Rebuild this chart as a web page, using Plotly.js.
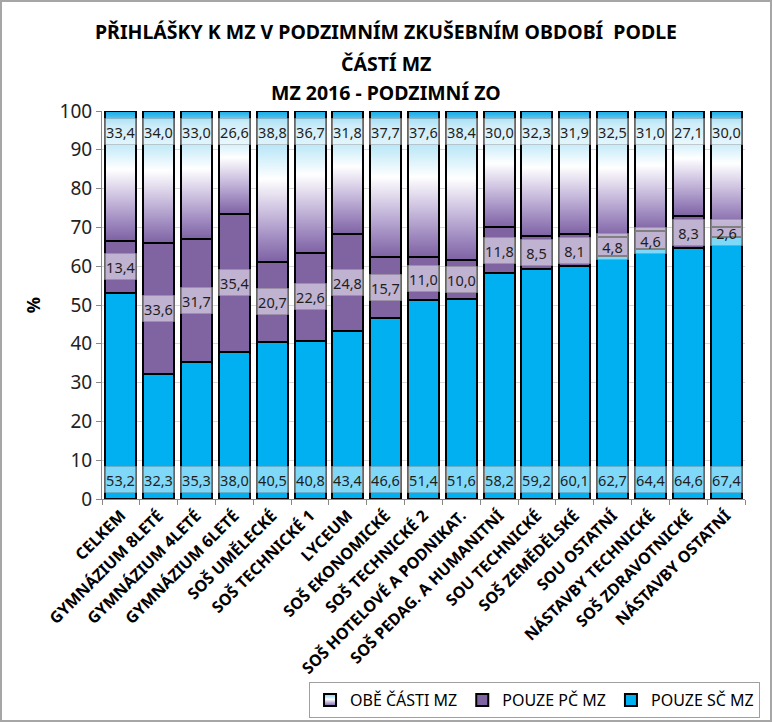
<!DOCTYPE html>
<html>
<head>
<meta charset="utf-8">
<script src="https://cdn.plot.ly/plotly-3.0.1.min.js"></script>
<style>
  html, body { margin: 0; padding: 0; background: #fff; }
  #wrap { position: relative; width: 772px; height: 722px; }
  #chart { width: 772px; height: 722px; }
  #frame { position: absolute; left: 0; top: 0; width: 772px; height: 722px; box-sizing: border-box; border: 2px solid #a6a6a6; pointer-events: none; }
</style>
</head>
<body>
<div id="wrap"><div id="chart"></div><div id="frame"></div></div>
<script>
const categories = [
  'CELKEM', 'GYMNÁZIUM 8LETÉ', 'GYMNÁZIUM 4LETÉ', 'GYMNÁZIUM 6LETÉ', 'SOŠ UMĚLECKÉ',
  'SOŠ TECHNICKÉ 1', 'LYCEUM', 'SOŠ EKONOMICKÉ', 'SOŠ TECHNICKÉ 2', 'SOŠ HOTELOVÉ A PODNIKAT.',
  'SOŠ PEDAG. A HUMANITNÍ', 'SOU TECHNICKÉ', 'SOŠ ZEMĚDĚLSKÉ', 'SOU OSTATNÍ',
  'NÁSTAVBY TECHNICKÉ', 'SOŠ ZDRAVOTNICKÉ', 'NÁSTAVBY OSTATNÍ'
];
const pouzeSC = [53.2, 32.3, 35.3, 38.0, 40.5, 40.8, 43.4, 46.6, 51.4, 51.6, 58.2, 59.2, 60.1, 62.7, 64.4, 64.6, 67.4];
const pouzePC = [13.4, 33.6, 31.7, 35.4, 20.7, 22.6, 24.8, 15.7, 11.0, 10.0, 11.8, 8.5, 8.1, 4.8, 4.6, 8.3, 2.6];
const obeCasti = [33.4, 34.0, 33.0, 26.6, 38.8, 36.7, 31.8, 37.7, 37.6, 38.4, 30.0, 32.3, 31.9, 32.5, 31.0, 27.1, 30.0];
const seriesNames = ['POUZE SČ MZ', 'POUZE PČ MZ', 'OBĚ ČÁSTI MZ'];
const titleLines = ['PŘIHLÁŠKY K MZ V PODZIMNÍM ZKUŠEBNÍM OBDOBÍ  PODLE', 'ČÁSTÍ MZ', 'MZ 2016 - PODZIMNÍ ZO'];
const yTicks = [0, 10, 20, 30, 40, 50, 60, 70, 80, 90, 100];

const fmt = v => v.toFixed(1).replace('.', ',');
const FONT = '"Noto Sans", "Open Sans", sans-serif';
const TITLEFONT = '"Noto Sans", "Open Sans", sans-serif';

const lineStyle = { color: '#000000', width: 2 };
const data = [
  { type: 'bar', name: seriesNames[0], x: categories, y: pouzeSC, marker: { color: '#00b0f0', line: lineStyle }, hoverinfo: 'none' },
  { type: 'bar', name: seriesNames[1], x: categories, y: pouzePC, marker: { color: '#8064a2', line: lineStyle }, hoverinfo: 'none' },
  { type: 'bar', name: seriesNames[2], x: categories, y: obeCasti, marker: { color: '#dcd3ea', line: lineStyle }, hoverinfo: 'none' }
];

const labelBox = {
  xref: 'x', yref: 'y', showarrow: false,
  font: { family: FONT, size: 14.5, color: '#1e1e1e' },
  bgcolor: 'rgba(255,255,255,0.5)', bordercolor: 'rgba(150,150,150,0.45)', borderwidth: 1,
  borderpad: 1, width: 29, height: 23, align: 'center', valign: 'middle'
};
const annotations = [];
categories.forEach((c, i) => {
  annotations.push(Object.assign({}, labelBox, { x: c, y: 0, yanchor: 'middle', yshift: 20, text: fmt(pouzeSC[i]) }));
  annotations.push(Object.assign({}, labelBox, { x: c, y: pouzeSC[i] + pouzePC[i] / 2, yanchor: 'middle', text: fmt(pouzePC[i]) }));
  annotations.push(Object.assign({}, labelBox, { x: c, y: 100, yanchor: 'middle', yshift: -20, text: fmt(obeCasti[i]) }));
});
const tFont = { family: TITLEFONT, size: 19.5, color: '#000', weight: 'bold' };
annotations.push({ xref: 'paper', yref: 'paper', x: 0.4417, y: 1.1237, xanchor: 'center', yanchor: 'middle', showarrow: false,
  text: titleLines[1], font: tFont });
annotations.push({ xref: 'paper', yref: 'paper', x: 0.4417, y: 1.0464, xanchor: 'center', yanchor: 'middle', showarrow: false,
  text: titleLines[2], font: tFont });

const layout = {
  width: 772, height: 722,
  margin: { l: 102, r: 27, t: 111, b: 223, pad: 0, autoexpand: false },
  paper_bgcolor: '#ffffff', plot_bgcolor: '#ffffff',
  barmode: 'stack', bargap: 0.18,
  showlegend: true,
  title: { text: titleLines[0], x: 0.5, xref: 'container', xanchor: 'center',
           y: 1 - 32 / 722, yref: 'container', yanchor: 'middle', automargin: false, font: tFont },
  xaxis: {
    type: 'category', tickangle: -45, tickson: 'boundaries', ticks: 'outside', ticklen: 5,
    tickcolor: '#888', showline: true, linecolor: '#888', linewidth: 1,
    tickfont: { family: FONT, size: 16, color: '#000', weight: 'bold' },
    showgrid: false, fixedrange: true, automargin: false
  },
  yaxis: {
    range: [0, 100], tickvals: yTicks, ticktext: yTicks.map(String), ticks: 'outside', ticklen: 5,
    tickcolor: '#888', showline: true, linecolor: '#888', linewidth: 1,
    showgrid: true, gridcolor: '#d9d9d9', gridwidth: 1, zeroline: false,
    tickfont: { family: FONT, size: 19, color: '#222' },
    title: { text: '%', standoff: 14, font: { family: FONT, size: 18, color: '#000', weight: 'bold' } },
    fixedrange: true, automargin: false
  },
  legend: {
    orientation: 'h', traceorder: 'reversed',
    xref: 'container', x: 0.9845, xanchor: 'right', yref: 'container', y: 1 - 682 / 722, yanchor: 'top',
    bgcolor: '#ffffff', bordercolor: '#a0a0a0', borderwidth: 1,
    font: { family: FONT, size: 16, color: '#000' }, itemwidth: 30
  },
  annotations: annotations
};

Plotly.newPlot('chart', data, layout, { staticPlot: true, displayModeBar: false }).then(gd => {
  const NS = 'http://www.w3.org/2000/svg';
  const svg = gd.querySelector('.main-svg');
  let defs = svg.querySelector('defs');
  if (!defs) { defs = document.createElementNS(NS, 'defs'); svg.insertBefore(defs, svg.firstChild); }
  const grad = document.createElementNS(NS, 'linearGradient');
  grad.setAttribute('id', 'obeGrad');
  grad.setAttribute('x1', '0'); grad.setAttribute('y1', '0');
  grad.setAttribute('x2', '0'); grad.setAttribute('y2', '1');
  [[0, '#12aae6'], [0.06, '#5cc6ee'], [0.12, '#9fdbf3'], [0.28, '#c9ecf9'], [0.45, '#ffffff'],
   [0.65, '#d0c5e2'], [0.85, '#a08bc0'], [1, '#7e62a3']].forEach(([o, c]) => {
    const s = document.createElementNS(NS, 'stop');
    s.setAttribute('offset', o); s.setAttribute('stop-color', c);
    grad.appendChild(s);
  });
  defs.appendChild(grad);
  const traces = gd.querySelectorAll('.barlayer .trace');
  if (traces[2]) traces[2].querySelectorAll('path').forEach(p => { p.style.fill = 'url(#obeGrad)'; });
  gd.querySelectorAll('.legend .traces').forEach(t => {
    if (t.textContent.indexOf('OBĚ') >= 0) t.querySelectorAll('.legendpoints path').forEach(p => { p.style.fill = 'url(#obeGrad)'; });
  });
});
</script>
</body>
</html>
